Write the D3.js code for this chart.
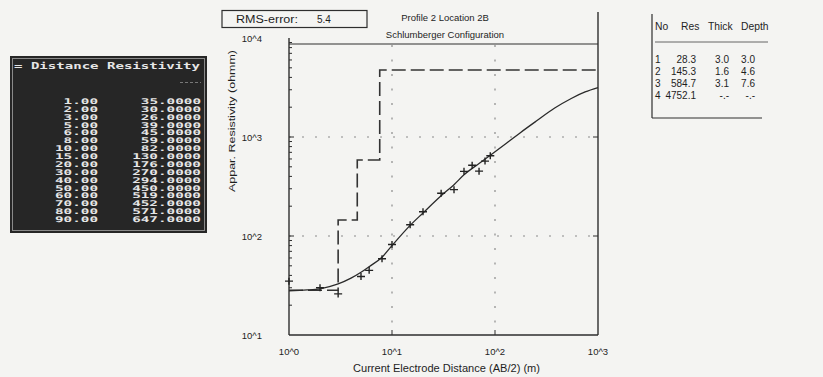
<!DOCTYPE html>
<html>
<head>
<meta charset="utf-8">
<script src="https://cdn.jsdelivr.net/npm/d3@7"></script>
<style>
  html, body { margin: 0; padding: 0; background: #f4f4f2; }
  svg { display: block; }
  .lbl { font-family: "Liberation Sans", Arial, sans-serif; fill: #1e1e1e; }
  .mono { font-family: "DejaVu Sans Mono", monospace; font-weight: bold; fill: #e6e6e6; }
</style>
</head>
<body>
<svg id="chart" width="823" height="377"></svg>
<script>
// Field readings: half electrode spacing AB/2 (m) and measured apparent resistivity (ohm-m)
const distance    = [1, 2, 3, 5, 6, 8, 10, 15, 20, 30, 40, 50, 60, 70, 80, 90];
const resistivity = [35, 30, 26, 39, 45, 59, 82, 130, 176, 270, 294, 450, 519, 452, 571, 647];

// Inverted layer model
const layerNo    = [1, 2, 3, 4];
const layerRes   = [28.3, 145.3, 584.7, 4752.1];
const layerThick = [3.0, 1.6, 3.1, null];
const layerDepth = [3.0, 4.6, 7.6, null];

// Computed model response curve
const curveAB  = [1, 1.5, 2, 3, 4, 5, 6, 8, 10, 15, 20, 30, 40, 50, 70, 90, 130, 175, 250, 380, 550, 750, 1000];
const curveRho = [28, 28.5, 29.3, 32.8, 37.5, 43, 49, 61, 80, 128, 171, 255, 330, 415, 540, 655, 870, 1100, 1440, 1960, 2450, 2850, 3150];

// Axis ticks
const xTicks = [1, 10, 100, 1000];
const xTickLabels = ["10^0", "10^1", "10^2", "10^3"];
const yTicks = [10, 100, 1000, 10000];
const yTickLabels = ["10^1", "10^2", "10^3", "10^4"];

const rmsError = 5.4;
const titleLines = ["Profile 2 Location 2B", "Schlumberger Configuration"];

const svg = d3.select("#chart");

// ---------- Left data listing ----------
const list = svg.append("g");
list.append("rect").attr("x", 10).attr("y", 56).attr("width", 197).attr("height", 177).attr("fill", "#262626");
list.append("rect").attr("x", 12.5).attr("y", 58.5).attr("width", 192).attr("height", 172)
  .attr("fill", "none").attr("stroke", "#8a8a8a").attr("stroke-width", 1);
list.append("text").attr("class", "mono").attr("x", 14).attr("y", 69)
  .attr("font-size", 9.5).attr("textLength", 186).attr("lengthAdjust", "spacingAndGlyphs")
  .text("= Distance Resistivity");
list.append("line").attr("x1", 180).attr("x2", 201).attr("y1", 82.5).attr("y2", 82.5)
  .attr("stroke", "#777").attr("stroke-dasharray", "3,2");
const rowY = d3.scaleLinear().domain([0, distance.length - 1]).range([104, 222]);
distance.forEach((d, i) => {
  const s1 = d.toFixed(2), s2 = resistivity[i].toFixed(4);
  list.append("text").attr("class", "mono").attr("font-size", 7.8)
    .attr("x", 98 - s1.length * 8.6).attr("y", rowY(i))
    .attr("textLength", s1.length * 8.6).attr("lengthAdjust", "spacingAndGlyphs").text(s1);
  list.append("text").attr("class", "mono").attr("font-size", 7.8)
    .attr("x", 201 - s2.length * 8.6).attr("y", rowY(i))
    .attr("textLength", s2.length * 8.6).attr("lengthAdjust", "spacingAndGlyphs").text(s2);
});

// ---------- Plot ----------
const pLeft = 289, pRight = 598, pBottom = 335, pTop = 38;
const x = d3.scaleLog().domain([1, 1000]).range([pLeft, pRight]);
const y = d3.scaleLog().domain([10, 10000]).range([pBottom, pTop]);

const plot = svg.append("g");

// dotted grid at inner decades
[10, 100].forEach(v => {
  plot.append("line").attr("x1", x(v)).attr("x2", x(v)).attr("y1", 45).attr("y2", pBottom)
    .attr("stroke", "#8a8a8a").attr("stroke-width", 1.2).attr("stroke-dasharray", "2,12.5");
  plot.append("line").attr("x1", pLeft).attr("x2", pRight).attr("y1", y(v * 10)).attr("y2", y(v * 10))
    .attr("stroke", "#8a8a8a").attr("stroke-width", 1.2).attr("stroke-dasharray", "2,11");
});

// frame
const frame = "#2e2e2e";
plot.append("line").attr("x1", pLeft).attr("x2", pLeft).attr("y1", y(10000)).attr("y2", pBottom).attr("stroke", frame).attr("stroke-width", 1.4);
plot.append("line").attr("x1", pLeft).attr("x2", pRight).attr("y1", pBottom).attr("y2", pBottom).attr("stroke", frame).attr("stroke-width", 1.4);
plot.append("line").attr("x1", pRight).attr("x2", pRight).attr("y1", 12).attr("y2", pBottom).attr("stroke", frame).attr("stroke-width", 1.4);
plot.append("line").attr("x1", pLeft).attr("x2", pRight).attr("y1", 44).attr("y2", 44).attr("stroke", frame).attr("stroke-width", 1.2);

// ticks
const yMinor = [];
[10, 100, 1000].forEach(d => { for (let k = 2; k <= 9; k++) yMinor.push(d * k); });
yMinor.forEach(v => plot.append("line").attr("x1", pLeft).attr("x2", pLeft + 3).attr("y1", y(v)).attr("y2", y(v)).attr("stroke", frame));
yTicks.slice(1, 3).forEach(v => {
  plot.append("line").attr("x1", pLeft).attr("x2", pLeft + 5).attr("y1", y(v)).attr("y2", y(v)).attr("stroke", frame);
  plot.append("line").attr("x1", pRight - 5).attr("x2", pRight).attr("y1", y(v)).attr("y2", y(v)).attr("stroke", frame);
});
xTicks.slice(1, 3).forEach(v => {
  plot.append("line").attr("x1", x(v)).attr("x2", x(v)).attr("y1", pBottom).attr("y2", pBottom - 5).attr("stroke", frame);
});

// tick labels
xTicks.forEach((v, i) => plot.append("text").attr("class", "lbl").attr("font-size", 9.5)
  .attr("x", x(v)).attr("y", 355).attr("text-anchor", "middle").text(xTickLabels[i]));
yTicks.forEach((v, i) => plot.append("text").attr("class", "lbl").attr("font-size", 9.5)
  .attr("x", 262).attr("y", y(v) + 3.5).attr("text-anchor", "end").text(yTickLabels[i]));

// axis titles
plot.append("text").attr("class", "lbl").attr("font-size", 10)
  .attr("x", 353).attr("y", 372).attr("textLength", 187).attr("lengthAdjust", "spacingAndGlyphs")
  .text("Current Electrode Distance (AB/2) (m)");
plot.append("text").attr("class", "lbl").attr("font-size", 8.5)
  .attr("transform", "translate(235,192) rotate(-90)")
  .attr("textLength", 142).attr("lengthAdjust", "spacingAndGlyphs")
  .text("Appar. Resistivity (ohmm)");

// layered model as a dashed step line
const stepPts = [];
let prevDepth = 1;
layerRes.forEach((r, i) => {
  const d = layerDepth[i] == null ? 1000 : layerDepth[i];
  stepPts.push([prevDepth, r], [d, r]);
  prevDepth = d;
});
plot.append("path")
  .attr("d", d3.line().x(p => x(p[0])).y(p => y(p[1]))(stepPts))
  .attr("fill", "none").attr("stroke", "#333").attr("stroke-width", 1.6).attr("stroke-dasharray", "14,5");

// model response curve
plot.append("path")
  .attr("d", d3.line().x(d => x(d)).y((d, i) => y(curveRho[i])).curve(d3.curveMonotoneX)(curveAB))
  .attr("fill", "none").attr("stroke", "#2a2a2a").attr("stroke-width", 1.3);

// measured points
distance.forEach((d, i) => {
  const cx = x(d), cy = y(resistivity[i]);
  plot.append("path").attr("d", `M${cx - 4},${cy}H${cx + 4}M${cx},${cy - 3.5}V${cy + 3.5}`)
    .attr("stroke", "#222").attr("stroke-width", 1.4);
});

// title and RMS box
titleLines.forEach((t, i) => plot.append("text").attr("class", "lbl").attr("font-size", 9.5)
  .attr("x", 445).attr("y", 21 + i * 17).attr("text-anchor", "middle").text(t));
plot.append("rect").attr("x", 222).attr("y", 10.5).attr("width", 145).attr("height", 17)
  .attr("fill", "none").attr("stroke", frame).attr("stroke-width", 1.2);
plot.append("text").attr("class", "lbl").attr("font-size", 10)
  .attr("x", 236).attr("y", 23).attr("textLength", 62).attr("lengthAdjust", "spacingAndGlyphs").text("RMS-error:");
plot.append("text").attr("class", "lbl").attr("font-size", 10)
  .attr("x", 317).attr("y", 23).text(rmsError.toFixed(1));

// ---------- Layer table ----------
const tbl = svg.append("g");
tbl.append("line").attr("x1", 652).attr("x2", 652).attr("y1", 14).attr("y2", 118).attr("stroke", frame).attr("stroke-width", 1.2);
tbl.append("line").attr("x1", 652).attr("x2", 762).attr("y1", 118).attr("y2", 118).attr("stroke", frame).attr("stroke-width", 1.2);
const heads = [["No", 655], ["Res", 681], ["Thick", 708], ["Depth", 741]];
heads.forEach(h => tbl.append("text").attr("class", "lbl").attr("font-size", 10.3)
  .attr("x", h[1]).attr("y", 30).text(h[0]));
tbl.append("line").attr("x1", 655).attr("x2", 768).attr("y1", 42).attr("y2", 42).attr("stroke", "#555").attr("stroke-width", 0.9);
layerNo.forEach((n, i) => {
  const yy = 62.5 + i * 12;
  tbl.append("text").attr("class", "lbl").attr("font-size", 10).attr("x", 655).attr("y", yy).text(n);
  tbl.append("text").attr("class", "lbl").attr("font-size", 10).attr("x", 696).attr("y", yy).attr("text-anchor", "end").text(layerRes[i].toFixed(1));
  tbl.append("text").attr("class", "lbl").attr("font-size", 10).attr("x", 729).attr("y", yy).attr("text-anchor", "end")
    .text(layerThick[i] == null ? "-.-" : layerThick[i].toFixed(1));
  tbl.append("text").attr("class", "lbl").attr("font-size", 10).attr("x", 755).attr("y", yy).attr("text-anchor", "end")
    .text(layerDepth[i] == null ? "-.-" : layerDepth[i].toFixed(1));
});
</script>
</body>
</html>
